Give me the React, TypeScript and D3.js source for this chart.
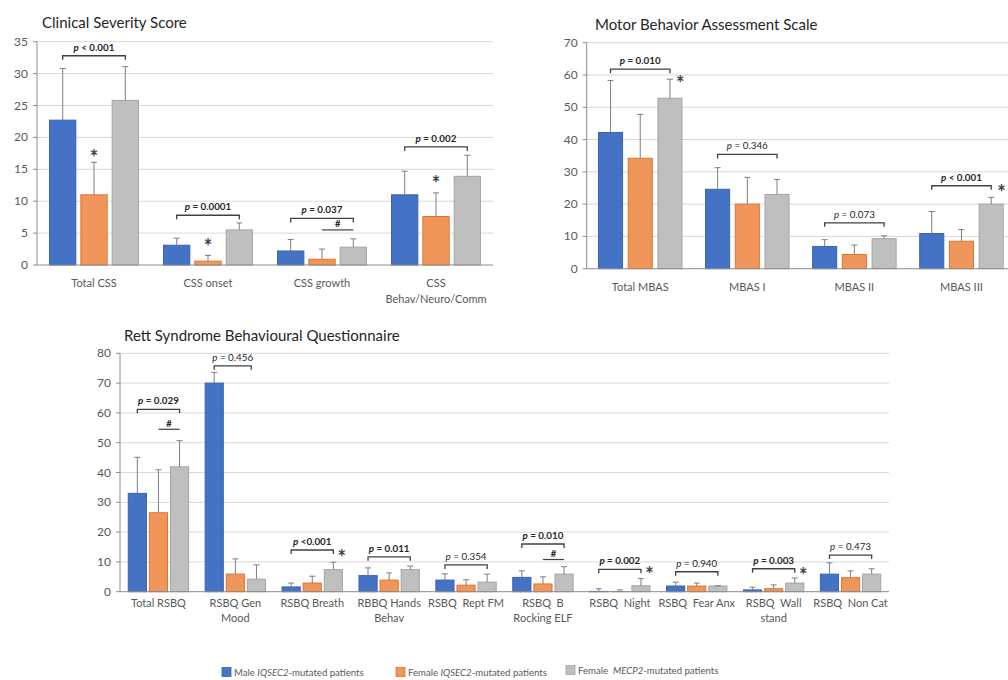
import React from 'react'
import * as d3 from 'd3'

// series: Male IQSEC2, Female IQSEC2, Female MECP2
const fills = ['#4472C4', '#F0965A', '#BFBFBF']
const strokes = ['#3A63B0', '#E0742C', '#A5A5A5']

// Clinical Severity Score
const cssCategories = ['Total CSS', 'CSS onset', 'CSS growth', 'CSS\nBehav/Neuro/Comm']
const cssMale = [22.7, 3.1, 2.2, 11.0]
const cssMaleSd = [8.1, 1.1, 1.8, 3.7]
const cssFemale = [11.0, 0.6, 0.9, 7.6]
const cssFemaleSd = [5.1, 0.9, 1.6, 3.7]
const cssMecp2 = [25.8, 5.5, 2.8, 13.9]
const cssMecp2Sd = [5.3, 1.1, 1.3, 3.3]

// Motor Behavior Assessment Scale
const mbasCategories = ['Total MBAS', 'MBAS I', 'MBAS II', 'MBAS III']
const mbasMale = [42.2, 24.6, 6.9, 10.9]
const mbasMaleSd = [16.1, 6.7, 2.1, 6.8]
const mbasFemale = [34.2, 20.0, 4.4, 8.5]
const mbasFemaleSd = [13.6, 8.3, 2.9, 3.6]
const mbasMecp2 = [52.8, 23.0, 9.3, 20.0]
const mbasMecp2Sd = [5.9, 4.6, 0.9, 2.1]

// Rett Syndrome Behavioural Questionnaire
const rsbqCategories = [
  'Total RSBQ', 'RSBQ Gen\nMood', 'RSBQ Breath', 'RBBQ Hands\nBehav', 'RSBQ  Rept FM',
  'RSBQ  B\nRocking ELF', 'RSBQ  Night', 'RSBQ  Fear Anx', 'RSBQ  Wall\nstand', 'RSBQ  Non Cat',
]
const rsbqMale = [33.0, 70.0, 1.6, 5.4, 3.9, 4.8, 0.1, 1.9, 0.6, 5.9]
const rsbqMaleSd = [12.1, 3.6, 1.3, 2.6, 2.1, 2.2, 0.9, 1.3, 0.9, 3.8]
const rsbqFemale = [26.5, 5.9, 2.9, 3.9, 2.2, 2.6, 0.05, 1.9, 1.0, 4.7]
const rsbqFemaleSd = [14.4, 5.1, 2.3, 2.4, 1.8, 2.4, 0.55, 1.0, 1.3, 2.3]
const rsbqMecp2 = [41.9, 4.2, 7.4, 7.4, 3.2, 5.9, 2.0, 1.9, 2.9, 5.9]
const rsbqMecp2Sd = [8.8, 4.8, 2.5, 1.2, 2.7, 2.5, 2.4, 0.1, 1.7, 1.8]

type Bracket = { cat: number; from: number; to: number; level: number; p: string; bold: boolean }
type Hash = { cat: number; from: number; to: number; level: number }
type Star = { cat: number; bar: number; level: number; side?: boolean }

const cssBrackets: Bracket[] = [
  { cat: 0, from: 0, to: 2, level: 32.8, p: '< 0.001', bold: true },
  { cat: 1, from: 0, to: 2, level: 7.8, p: '= 0.0001', bold: true },
  { cat: 2, from: 0, to: 2, level: 7.3, p: '= 0.037', bold: true },
  { cat: 3, from: 0, to: 2, level: 18.5, p: '= 0.002', bold: true },
]
const cssHashes: Hash[] = [{ cat: 2, from: 1, to: 2, level: 5.5 }]
const cssStars: Star[] = [
  { cat: 0, bar: 1, level: 17.6 },
  { cat: 1, bar: 1, level: 3.6 },
  { cat: 3, bar: 1, level: 13.5 },
]

const mbasBrackets: Bracket[] = [
  { cat: 0, from: 0, to: 2, level: 61.8, p: '= 0.010', bold: true },
  { cat: 1, from: 0, to: 2, level: 35.4, p: '= 0.346', bold: false },
  { cat: 2, from: 0, to: 2, level: 14.2, p: '= 0.073', bold: false },
  { cat: 3, from: 0, to: 2, level: 25.7, p: '< 0.001', bold: true },
]
const mbasStars: Star[] = [
  { cat: 0, bar: 2, level: 58.7, side: true },
  { cat: 3, bar: 2, level: 25.1, side: true },
]

const rsbqBrackets: Bracket[] = [
  { cat: 0, from: 0, to: 2, level: 61.2, p: '= 0.029', bold: true },
  { cat: 1, from: 0, to: 1.75, level: 75.8, p: '= 0.456', bold: false },
  { cat: 2, from: 0, to: 2, level: 14.0, p: '<0.001', bold: true },
  { cat: 3, from: 0, to: 2, level: 11.7, p: '= 0.011', bold: true },
  { cat: 4, from: 0, to: 2, level: 9.0, p: '= 0.354', bold: false },
  { cat: 5, from: 0, to: 2, level: 16.0, p: '= 0.010', bold: true },
  { cat: 6, from: 0, to: 2, level: 7.5, p: '= 0.002', bold: true },
  { cat: 7, from: 0, to: 2, level: 6.7, p: '= 0.940', bold: false },
  { cat: 8, from: 0, to: 2, level: 7.7, p: '= 0.003', bold: true },
  { cat: 9, from: 0, to: 2, level: 12.3, p: '= 0.473', bold: false },
]
const rsbqHashes: Hash[] = [
  { cat: 0, from: 1, to: 2, level: 54.5 },
  { cat: 5, from: 1, to: 2, level: 10.8 },
]
const rsbqStars: Star[] = [
  { cat: 2, bar: 2, level: 13.0, side: true },
  { cat: 6, bar: 2, level: 7.3, side: true },
  { cat: 8, bar: 2, level: 7.0, side: true },
]

const FONT = "Lato, 'Open Sans', sans-serif"
const TEXT = '#595959'
const DARK = '#404040'

type PanelProps = {
  title: string
  titleX: number
  titleY: number
  categories: string[]
  means: number[][]
  sds: number[][]
  yMax: number
  yStep: number
  left: number
  right: number
  top: number
  bottom: number
  groupFrac: number
  barGap: number
  labelY: number
  labelLine: number
  brackets: Bracket[]
  hashes: Hash[]
  stars: Star[]
}

function Panel(props: PanelProps) {
  const { categories, means, sds, yMax, yStep, left, right, top, bottom } = props
  const x0 = d3.scaleBand<number>().domain(d3.range(categories.length)).range([left, right])
  const bw = x0.bandwidth()
  const groupW = bw * props.groupFrac
  const x1 = d3
    .scaleBand<number>()
    .domain([0, 1, 2])
    .range([(bw - groupW) / 2, (bw + groupW) / 2])
    .paddingInner(props.barGap)
  const y = d3.scaleLinear().domain([0, yMax]).range([bottom, top])
  const ticks = y.ticks(yMax / yStep)
  const barW = x1.bandwidth()
  // centre of bar b in category c (fractional b sits between bars)
  const cx = (c: number, b: number) => {
    const lo = Math.floor(b)
    const f = b - lo
    const a = x0(c)! + x1(lo)! + barW / 2
    if (f === 0) return a
    return a + f * x1.step()
  }

  return (
    <g fontFamily={FONT}>
      <text x={props.titleX} y={props.titleY} fontSize={15} fill="#262626">
        {props.title}
      </text>
      {ticks.map(t => (
        <g key={t}>
          {t > 0 && <line x1={left} x2={right} y1={y(t)} y2={y(t)} stroke="#D9D9D9" strokeWidth={1} />}
          <line x1={left - 4} x2={left} y1={y(t)} y2={y(t)} stroke="#8C8C8C" />
          <text x={left - 9} y={y(t) + 4} fontSize={12} fill={TEXT} textAnchor="end">
            {t}
          </text>
        </g>
      ))}
      <line x1={left} x2={left} y1={top} y2={bottom} stroke="#8C8C8C" />
      {means.map((vals, s) =>
        vals.map((v, c) => (
          <rect
            key={`b${s}-${c}`}
            x={x0(c)! + x1(s)!}
            y={y(v)}
            width={barW}
            height={bottom - y(v)}
            fill={fills[s]}
            stroke={strokes[s]}
            strokeWidth={1}
          />
        ))
      )}
      <line x1={left} x2={right} y1={bottom} y2={bottom} stroke="#8C8C8C" />
      {means.map((vals, s) =>
        vals.map((v, c) => {
          const xc = cx(c, s)
          const yt = y(v + sds[s][c])
          return (
            <g key={`e${s}-${c}`} stroke="#7F7F7F" strokeWidth={1}>
              <line x1={xc} x2={xc} y1={y(v)} y2={yt} />
              <line x1={xc - 3} x2={xc + 3} y1={yt} y2={yt} />
            </g>
          )
        })
      )}
      {categories.map((c, i) =>
        c.split('\n').map((ln, j) => (
          <text
            key={`l${i}-${j}`}
            x={x0(i)! + bw / 2}
            y={props.labelY + j * props.labelLine}
            fontSize={11}
            fill={TEXT}
            textAnchor="middle"
            style={{ whiteSpace: 'pre' }}
          >
            {ln}
          </text>
        ))
      )}
      {props.brackets.map((b, i) => {
        const xa = cx(b.cat, b.from)
        const xb = cx(b.cat, b.to)
        const yy = y(b.level)
        return (
          <g key={`k${i}`}>
            <path
              d={`M${xa},${yy + 4}V${yy}H${xb}V${yy + 4}`}
              fill="none"
              stroke={DARK}
              strokeWidth={1.3}
            />
            <text
              x={(xa + xb) / 2}
              y={yy - 5}
              fontSize={9.8}
              fill="#262626"
              textAnchor="middle"
              fontWeight={b.bold ? 'bold' : 'normal'}
            >
              <tspan fontStyle="italic">p</tspan>
              {' ' + b.p}
            </text>
          </g>
        )
      })}
      {props.hashes.map((h, i) => {
        const xa = cx(h.cat, h.from)
        const xb = cx(h.cat, h.to)
        const yy = y(h.level)
        return (
          <g key={`h${i}`}>
            <line x1={xa} x2={xb} y1={yy} y2={yy} stroke={DARK} strokeWidth={1.2} />
            <text x={(xa + xb) / 2} y={yy - 2.5} fontSize={9.5} fontWeight="bold" fill="#262626" textAnchor="middle">
              #
            </text>
          </g>
        )
      })}
      {props.stars.map((s, i) => (
        <text
          key={`s${i}`}
          x={cx(s.cat, s.bar) + (s.side ? barW * 0.3 + 3 : 0)}
          y={y(s.level) + 12}
          fontSize={20}
          fontWeight="bold"
          fill={DARK}
          textAnchor="middle"
        >
          *
        </text>
      ))}
    </g>
  )
}

const legendItems = [
  { pre: 'Male ', gene: 'IQSEC2', post: '-mutated patients', x: 222, y: 676 },
  { pre: 'Female ', gene: 'IQSEC2', post: '-mutated patients', x: 396, y: 676 },
  { pre: 'Female  ', gene: 'MECP2', post: '-mutated patients', x: 566, y: 674 },
]

export default function App() {
  return (
    <svg
      width={1008}
      height={680}
      style={{ position: 'absolute', left: 0, top: 0, background: '#fff' }}
    >
      <rect width={1008} height={680} fill="#fff" />
      <Panel
        title="Clinical Severity Score"
        titleX={42}
        titleY={28}
        categories={cssCategories}
        means={[cssMale, cssFemale, cssMecp2]}
        sds={[cssMaleSd, cssFemaleSd, cssMecp2Sd]}
        yMax={35}
        yStep={5}
        left={37}
        right={493}
        top={41.7}
        bottom={265}
        groupFrac={0.78}
        barGap={0.16}
        labelY={287}
        labelLine={16}
        brackets={cssBrackets}
        hashes={cssHashes}
        stars={cssStars}
      />
      <Panel
        title="Motor Behavior Assessment Scale"
        titleX={595}
        titleY={30}
        categories={mbasCategories}
        means={[mbasMale, mbasFemale, mbasMecp2]}
        sds={[mbasMaleSd, mbasFemaleSd, mbasMecp2Sd]}
        yMax={70}
        yStep={10}
        left={586.7}
        right={1015}
        top={42.7}
        bottom={268.7}
        groupFrac={0.78}
        barGap={0.19}
        labelY={291}
        labelLine={16}
        brackets={mbasBrackets}
        hashes={[]}
        stars={mbasStars}
      />
      <Panel
        title="Rett Syndrome Behavioural Questionnaire"
        titleX={124}
        titleY={341}
        categories={rsbqCategories}
        means={[rsbqMale, rsbqFemale, rsbqMecp2]}
        sds={[rsbqMaleSd, rsbqFemaleSd, rsbqMecp2Sd]}
        yMax={80}
        yStep={10}
        left={120}
        right={889}
        top={353.3}
        bottom={591.7}
        groupFrac={0.785}
        barGap={0.14}
        labelY={607}
        labelLine={15}
        brackets={rsbqBrackets}
        hashes={rsbqHashes}
        stars={rsbqStars}
      />
      <g fontFamily={FONT} fontSize={9.6} fill={TEXT}>
        {legendItems.map((it, i) => (
          <g key={i}>
            <rect x={it.x} y={it.y - 8.5} width={9} height={9} fill={fills[i]} stroke={strokes[i]} strokeWidth={0.8} />
            <text x={it.x + 12} y={it.y} style={{ whiteSpace: 'pre' }}>
              {it.pre}
              <tspan fontStyle="italic">{it.gene}</tspan>
              {it.post}
            </text>
          </g>
        ))}
      </g>
    </svg>
  )
}
